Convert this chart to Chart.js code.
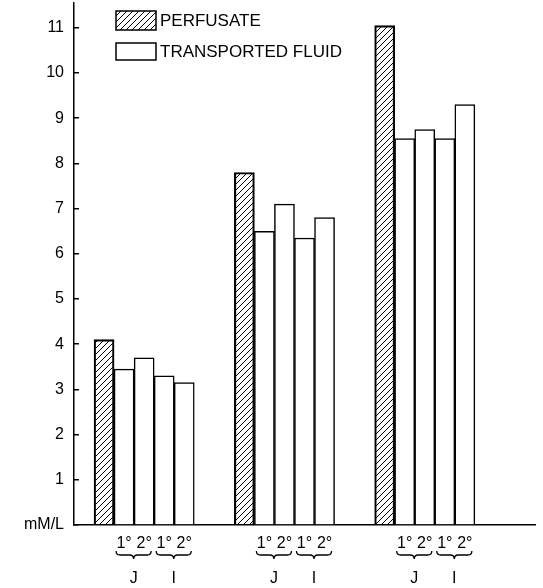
<!DOCTYPE html>
<html>
<head>
<meta charset="utf-8">
<script src="https://cdn.jsdelivr.net/npm/chart.js@4.4.0/dist/chart.umd.min.js"></script>
<style>
html, body { margin: 0; padding: 0; background: #fff; }
</style>
</head>
<body>
<canvas id="fluidChart" width="543" height="588"></canvas>
<script>
// values (mM/L)
const perfusate = [4.1, 7.8, 11.05];
const transported = [
    [3.45, 3.7, 3.3, 3.15],
    [6.5, 7.1, 6.35, 6.8],
    [8.55, 8.75, 8.55, 9.3]
];
const subLabels = ['1°', '2°', '1°', '2°'];
const pairLabels = ['J', 'I'];
const yTicks = [0, 1, 2, 3, 4, 5, 6, 7, 8, 9, 10, 11];
const yUnit = 'mM/L';

// empty category slots used as spacing between groups
const gapsBefore = [1, 2, 2];
const gapAfter = 3;

// build one category per bar slot
const slotLabels = [];
const perfData = [];
const transData = [];
const pairs = [];
perfusate.forEach((p, g) => {
    for (let i = 0; i < gapsBefore[g]; i++) {
        slotLabels.push(''); perfData.push(null); transData.push(null);
    }
    slotLabels.push(''); perfData.push(p); transData.push(null);
    const start = slotLabels.length;
    transported[g].forEach((v, k) => {
        slotLabels.push(subLabels[k]); perfData.push(null); transData.push(v);
    });
    pairs.push({ text: pairLabels[0], from: start, to: start + 1 });
    pairs.push({ text: pairLabels[1], from: start + 2, to: start + 3 });
});
for (let i = 0; i < gapAfter; i++) {
    slotLabels.push(''); perfData.push(null); transData.push(null);
}

const FONT = "'Liberation Sans', Arial, sans-serif";
Chart.defaults.font.family = FONT;
Chart.defaults.color = '#000';

const ctx = document.getElementById('fluidChart').getContext('2d');

function makeHatch() {
    const c = document.createElement('canvas');
    c.width = 6; c.height = 6;
    const g = c.getContext('2d');
    g.strokeStyle = '#000';
    g.lineWidth = 1;
    g.beginPath();
    g.moveTo(0, 6); g.lineTo(6, 0);
    g.moveTo(-1, 1); g.lineTo(1, -1);
    g.moveTo(5, 7); g.lineTo(7, 5);
    g.stroke();
    return ctx.createPattern(c, 'repeat');
}
const hatch = makeHatch();

// legend boxes drawn inside the plot, top left
const legendPlugin = {
    id: 'boxLegend',
    afterDraw(chart) {
        const c = chart.ctx;
        const a = chart.chartArea;
        const items = [
            { text: chart.data.datasets[0].label, fill: hatch, y: a.top + 8, h: 19 },
            { text: chart.data.datasets[1].label, fill: '#fff', y: a.top + 40, h: 17 }
        ];
        c.save();
        items.forEach(it => {
            const x = a.left + 42;
            c.fillStyle = it.fill;
            c.fillRect(x, it.y, 40, it.h);
            c.strokeStyle = '#000';
            c.lineWidth = 1.5;
            c.strokeRect(x, it.y, 40, it.h);
            c.fillStyle = '#000';
            c.font = '17px ' + FONT;
            c.textBaseline = 'middle';
            c.textAlign = 'left';
            c.fillText(it.text, x + 44, it.y + it.h / 2 + 1);
        });
        c.restore();
    }
};

// curly braces with J / I under each pair of bars
const bracePlugin = {
    id: 'braces',
    afterDraw(chart) {
        const c = chart.ctx;
        const xs = chart.scales.x;
        const half = (xs.getPixelForValue(1) - xs.getPixelForValue(0)) / 2;
        const base = chart.chartArea.bottom;
        const yTop = base + 26, yMid = base + 30, yBot = base + 34;
        c.save();
        c.strokeStyle = '#000';
        c.lineWidth = 1.3;
        c.fillStyle = '#000';
        c.font = '16px ' + FONT;
        c.textAlign = 'center';
        c.textBaseline = 'middle';
        pairs.forEach(p => {
            const x0 = xs.getPixelForValue(p.from) - half + 2;
            const x1 = xs.getPixelForValue(p.to) + half - 3;
            const xm = (x0 + x1) / 2;
            c.beginPath();
            c.moveTo(x0, yTop);
            c.quadraticCurveTo(x0, yMid, x0 + 4, yMid);
            c.lineTo(xm - 4, yMid);
            c.quadraticCurveTo(xm, yMid, xm, yBot);
            c.quadraticCurveTo(xm, yMid, xm + 4, yMid);
            c.lineTo(x1 - 4, yMid);
            c.quadraticCurveTo(x1, yMid, x1, yTop);
            c.stroke();
            c.fillText(p.text, xm, base + 54);
        });
        c.restore();
    }
};

const fluidChart = new Chart(ctx, {
    type: 'bar',
    data: {
        labels: slotLabels,
        datasets: [
            {
                label: 'PERFUSATE',
                data: perfData,
                backgroundColor: hatch,
                borderColor: '#000',
                borderWidth: 1.5,
                barPercentage: 1,
                categoryPercentage: 1,
                grouped: false
            },
            {
                label: 'TRANSPORTED FLUID',
                data: transData,
                backgroundColor: '#fff',
                borderColor: '#000',
                borderWidth: 1.5,
                barPercentage: 1,
                categoryPercentage: 1,
                grouped: false
            }
        ]
    },
    options: {
        responsive: false,
        animation: false,
        devicePixelRatio: 1,
        layout: { padding: { left: 4, right: 8, top: 3, bottom: 0 } },
        plugins: {
            legend: { display: false },
            tooltip: { enabled: false }
        },
        scales: {
            x: {
                grid: { display: false, drawTicks: false },
                border: { color: '#000', width: 1.5 },
                ticks: {
                    autoSkip: false,
                    maxRotation: 0,
                    padding: 9,
                    font: { size: 16 }
                },
                afterFit: s => { s.height = 63; }
            },
            y: {
                min: 0,
                max: 11.55,
                afterBuildTicks: s => { s.ticks = yTicks.map(v => ({ value: v })); },
                ticks: {
                    callback: v => (v === 0 ? yUnit : String(v)),
                    font: { size: 16 },
                    padding: 15
                },
                grid: {
                    drawOnChartArea: false,
                    drawTicks: true,
                    tickLength: -5,
                    color: '#000',
                    lineWidth: 1.5
                },
                border: { color: '#000', width: 1.5 },
                afterFit: s => {
                    s.width = 70;
                    s.paddingTop = 0;
                    s.paddingBottom = 0;
                }
            }
        }
    },
    plugins: [legendPlugin, bracePlugin]
});
</script>
</body>
</html>
